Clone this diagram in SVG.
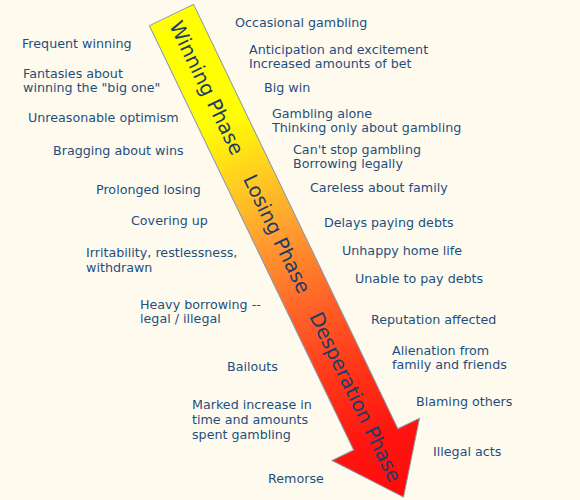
<svg xmlns="http://www.w3.org/2000/svg" width="580" height="500" viewBox="0 0 580 500">
<style>
.t{font-family:"DejaVu Sans","Liberation Sans",sans-serif;font-size:12.7px;fill:#1f4e7e}
.p{font-family:"DejaVu Sans","Liberation Sans",sans-serif;font-size:19.8px;fill:#1c3c68;text-anchor:middle}
</style>
<defs>
<linearGradient id="g" gradientUnits="userSpaceOnUse" x1="0" y1="0" x2="535" y2="0">
<stop offset="0" stop-color="#ffff00"/>
<stop offset="0.22" stop-color="#ffff00"/>
<stop offset="0.33" stop-color="#ffd020"/>
<stop offset="0.45" stop-color="#ffa030"/>
<stop offset="0.6" stop-color="#ff6428"/>
<stop offset="0.75" stop-color="#ff3418"/>
<stop offset="0.88" stop-color="#ff1410"/>
<stop offset="1" stop-color="#ff0a0a"/>
</linearGradient>
</defs>
<rect width="580" height="500" fill="#fefbee"/>
<g id="arrow" transform="translate(171.5,15) rotate(64.3)">
<polygon points="0,-24.5 471,-24.5 471,-48.5 535,0 471,48.5 471,24.5 0,24.5" fill="url(#g)" stroke="#8a96a8" stroke-width="1"/>
<text class="p" x="81" y="6.8">Winning Phase</text>
<text class="p" x="243" y="6.8">Losing Phase</text>
<text class="p" x="424" y="6.8">Desperation Phase</text>
</g>
<g id="right">
<g id="n1"><text class="t" x="235" y="27">Occasional gambling</text></g>
<g id="n2"><text class="t" x="249" y="54">Anticipation and excitement</text><text class="t" x="249" y="68">Increased amounts of bet</text></g>
<g id="n3"><text class="t" x="264" y="92">Big win</text></g>
<g id="n4"><text class="t" x="272" y="118">Gambling alone</text><text class="t" x="272" y="132">Thinking only about gambling</text></g>
<g id="n5"><text class="t" x="293" y="154">Can't stop gambling</text><text class="t" x="293" y="168">Borrowing legally</text></g>
<g id="n6"><text class="t" x="310" y="192">Careless about family</text></g>
<g id="n7"><text class="t" x="324" y="227">Delays paying debts</text></g>
<g id="n8"><text class="t" x="342" y="255">Unhappy home life</text></g>
<g id="n9"><text class="t" x="355" y="283">Unable to pay debts</text></g>
<g id="n10"><text class="t" x="371" y="324">Reputation affected</text></g>
<g id="n11"><text class="t" x="392" y="355">Alienation from</text><text class="t" x="392" y="369">family and friends</text></g>
<g id="n12"><text class="t" x="416" y="406">Blaming others</text></g>
<g id="n13"><text class="t" x="433" y="456">Illegal acts</text></g>
</g>
<g id="left">
<g id="m1"><text class="t" x="22" y="48">Frequent winning</text></g>
<g id="m2"><text class="t" x="23" y="78">Fantasies about</text><text class="t" x="23" y="92">winning the "big one"</text></g>
<g id="m3"><text class="t" x="28" y="122">Unreasonable optimism</text></g>
<g id="m4"><text class="t" x="53" y="155">Bragging about wins</text></g>
<g id="m5"><text class="t" x="96" y="194">Prolonged losing</text></g>
<g id="m6"><text class="t" x="131" y="225">Covering up</text></g>
<g id="m7"><text class="t" x="86" y="257">Irritability, restlessness,</text><text class="t" x="86" y="272">withdrawn</text></g>
<g id="m8"><text class="t" x="140" y="309">Heavy borrowing --</text><text class="t" x="140" y="323">legal / illegal</text></g>
<g id="m9"><text class="t" x="227" y="371">Bailouts</text></g>
<g id="m10"><text class="t" x="192" y="409">Marked increase in</text><text class="t" x="192" y="424">time and amounts</text><text class="t" x="192" y="439">spent gambling</text></g>
<g id="m11"><text class="t" x="268" y="483">Remorse</text></g>
</g>
</svg>
